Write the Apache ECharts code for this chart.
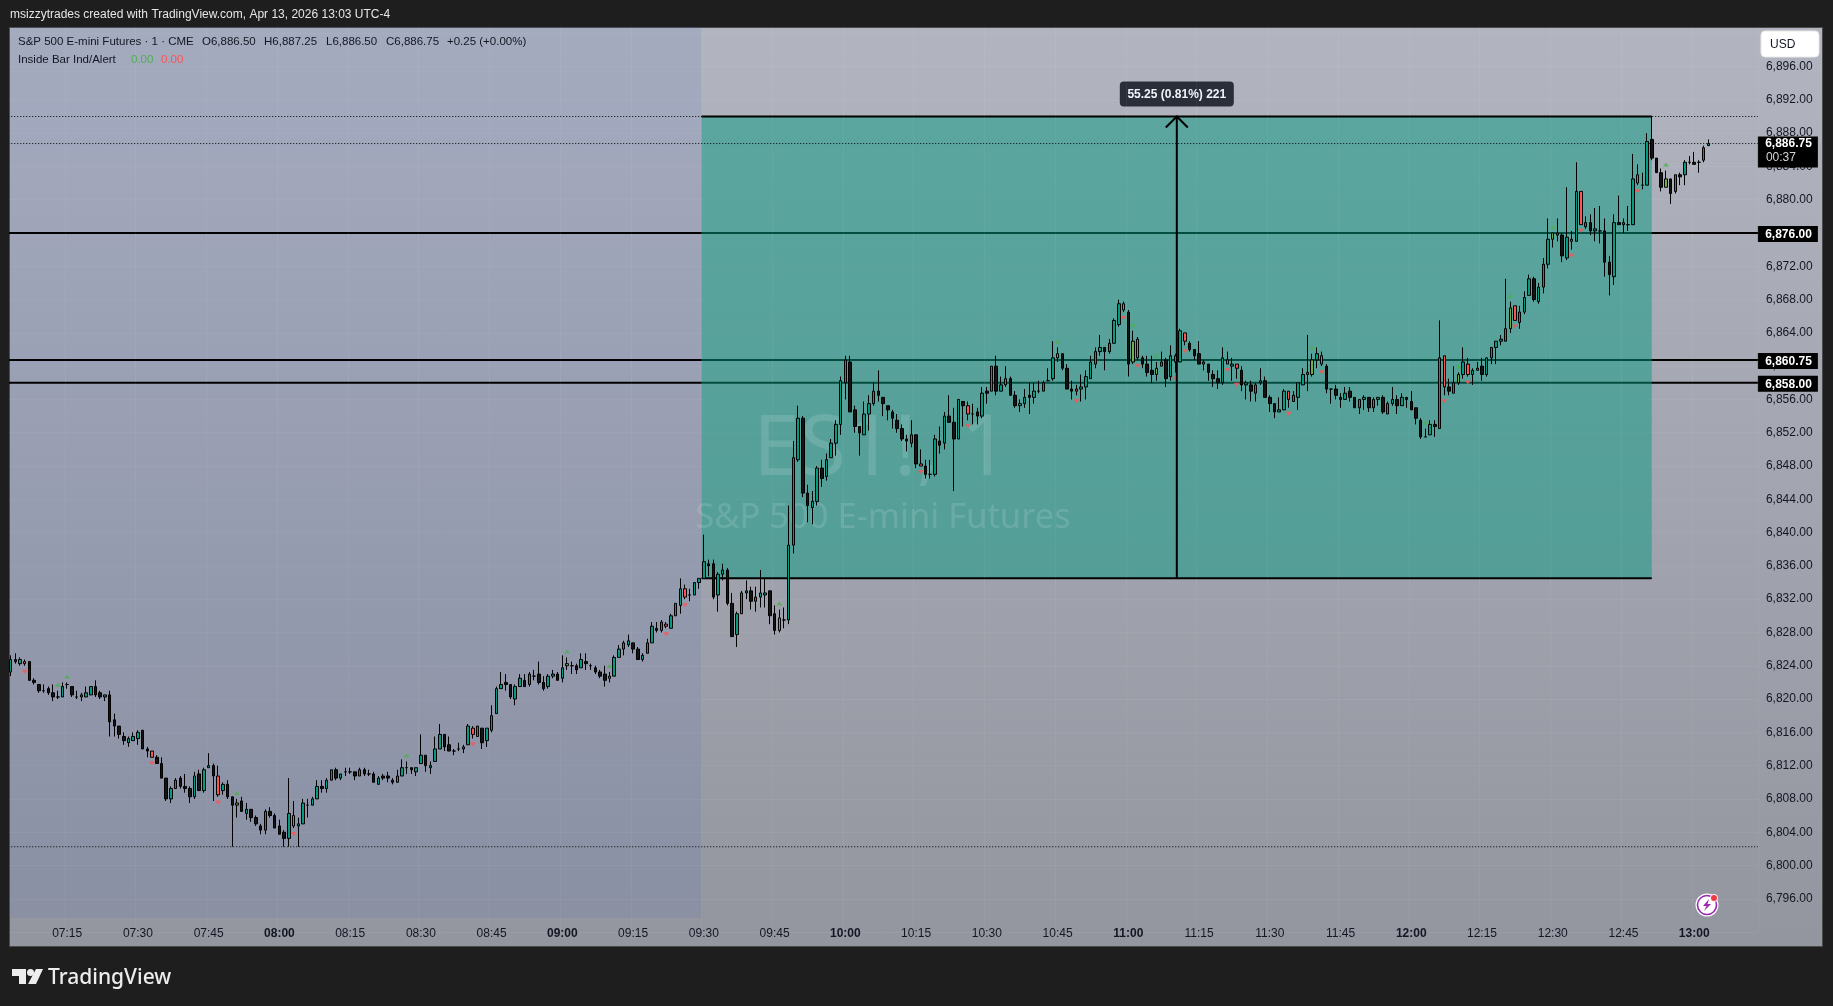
<!DOCTYPE html>
<html><head><meta charset="utf-8">
<style>html,body{margin:0;padding:0;background:#1e1e1e;width:1833px;height:1006px;overflow:hidden}#c{width:1833px;height:1006px}</style>
<script src="https://cdn.jsdelivr.net/npm/echarts@6/dist/echarts.min.js"></script>
</head><body><div id="c"></div>
<script>
// [open, close, low, high] one minute bars from 07:03
const ohlc = [
[6823.25,6824.75,6822.75,6825.25],[6824.75,6824.5,6824.25,6825.5],[6824.25,6824.75,6824,6825],[6824.5,6824.25,6824,6824.75],[6824.5,6822.25,6822.25,6824.5],
[6822.25,6822,6821.75,6822.5],[6821.75,6821,6820.75,6821.75],[6821,6821,6820.75,6821.75],[6821.25,6820.75,6820.5,6821.5],[6820.75,6820.25,6819.75,6821.75],
[6820.25,6820.25,6820,6821],[6820.25,6821.5,6820.25,6822],[6821.75,6821.75,6821.25,6822],[6821.5,6820.5,6820.25,6821.5],[6820.25,6820.25,6820,6821],
[6820.25,6820.5,6819.75,6820.75],[6820.25,6820.75,6820.25,6821.5],[6820.5,6821.5,6820.5,6821.5],[6821.5,6820.5,6820.25,6822.25],[6820.75,6820.25,6820,6821],
[6820.25,6820.5,6819.75,6820.5],[6820.5,6817.25,6815.5,6821],[6817.5,6816.75,6815.5,6818.25],[6816.75,6815.75,6815.25,6816.75],[6815.5,6815,6814.5,6816],
[6814.75,6815.25,6814.25,6815.5],[6815,6815.5,6815,6816],[6815.25,6816,6814.5,6816.25],[6816.25,6814,6814,6816.25],[6814,6813.75,6813,6814.25],
[6813.75,6813,6813,6813.75],[6813,6812.25,6812.25,6813.25],[6812.25,6810.5,6810.5,6813],[6810.5,6808,6807.75,6810.5],[6808,6809.25,6807.5,6809.5],
[6809.25,6810.25,6809.25,6810.5],[6810.5,6809.5,6809.25,6810.75],[6809.5,6809.25,6808.75,6811],[6809.25,6808.25,6807.5,6809.5],[6808.25,6810.75,6808,6811.25],
[6811,6809,6809,6811.5],[6809,6811.5,6808.75,6811.75],[6811.75,6812,6811.75,6813.5],[6812,6810.75,6807.75,6812.25],[6810.75,6808.5,6808.25,6812],
[6809,6809.75,6808.5,6810],[6809.75,6808.25,6808,6810.25],[6808.25,6807.25,6802.25,6808.25],[6807.25,6807.5,6805.75,6808],[6807.75,6806.5,6806.5,6808.25],
[6806.25,6806.75,6805.5,6807.5],[6806.75,6805.75,6805.25,6806.75],[6805.75,6805,6804.75,6806],[6804.75,6804.25,6803.75,6805],[6804.25,6806.5,6803.75,6806.75],
[6806.5,6806,6805.75,6807],[6806,6804.5,6804.5,6806.25],[6804.75,6803.75,6803.75,6805.5],[6804,6803.25,6802.25,6804.25],[6803.25,6806.25,6802.25,6810.5],
[6806,6804.75,6804.5,6807.75],[6804.75,6805,6802.25,6805.75],[6805,6807.5,6805,6808],[6807.25,6807.25,6805.75,6808],[6807.25,6808,6807.25,6808.25],
[6808,6809.5,6808,6810.25],[6809.5,6809.25,6808.75,6810.25],[6809.25,6810.25,6808.75,6810.5],[6810.25,6811.5,6810.25,6811.5],[6811.5,6810.5,6810.25,6811.75],
[6810.5,6811,6810.25,6811],[6811.25,6811.25,6810.75,6811.75],[6811.25,6811.25,6811,6811.75],[6811.25,6810.75,6810.25,6811.25],[6810.75,6811.5,6810.75,6811.75],
[6811.5,6811,6810.75,6811.75],[6811,6811,6810.75,6811.5],[6811,6810,6810,6811.25],[6809.75,6810.5,6809.75,6810.75],[6810.75,6810.5,6810.25,6811],
[6810.75,6810.5,6810,6811.25],[6810.25,6810,6809.75,6810.5],[6810,6810.75,6810,6811.5],[6810.75,6811.75,6810.75,6812.75],[6811.75,6811.75,6811,6812.5],
[6811.75,6811.5,6811,6811.75],[6811.25,6811.75,6810.75,6811.75],[6812.25,6813.25,6812.25,6815.75],[6813.25,6812,6811.25,6813.25],[6811.75,6812,6811,6812.5],
[6812.5,6814,6812.5,6815.5],[6814,6815.75,6814,6817],[6815.75,6814.25,6813.75,6815.75],[6814.5,6813.75,6813.75,6815.5],[6813.75,6813.75,6813.25,6814],
[6814,6814,6813.75,6814.75],[6814,6814.25,6813.5,6814.5],[6814.5,6816.75,6814.5,6817],[6816.5,6815.75,6815.25,6816.75],[6815.5,6816.75,6815.5,6816.75],
[6816.5,6814.75,6814,6816.5],[6815,6816.5,6814.25,6816.5],[6816.25,6818,6816,6819.25],[6818.25,6821.25,6818.25,6821.5],[6821.25,6821.75,6821.25,6823.25],
[6822,6821.75,6821,6823],[6821.75,6820.25,6820,6821.75],[6820,6821.5,6819.25,6821.75],[6821.5,6822.5,6821.5,6823],[6822.25,6821.5,6821.5,6823],
[6821.75,6823,6821.5,6823.25],[6822.75,6822.75,6822.25,6823.5],[6823,6822,6821.75,6824.5],[6822,6821.25,6821,6822.75],[6821.5,6822.75,6821.25,6823],
[6822.75,6823,6822.5,6823.5],[6823,6822.25,6822.25,6823.25],[6822.5,6823.75,6822,6825.25],[6824,6824.25,6823.5,6825],[6824,6824,6823,6824.5],
[6824,6823.5,6823,6824.25],[6823.75,6824.75,6823.75,6825.5],[6824.5,6824.25,6823.5,6825.5],[6824,6824,6823.5,6824.25],[6823.75,6823.25,6823,6824],
[6823.25,6822.75,6822.5,6823.5],[6823,6822.25,6821.5,6824],[6822.5,6822.75,6822,6823.25],[6822.75,6825,6822.75,6825.25],[6825,6826,6825,6826.5],
[6826,6826.75,6825.25,6827],[6826.5,6827,6826.25,6827.75],[6826.75,6826,6825.5,6826.75],[6826,6824.75,6824.75,6826.25],[6824.75,6825.25,6824.5,6825.5],
[6825.5,6826.75,6825.5,6827.25],[6826.75,6828.75,6826.75,6829.25],[6828.5,6828.25,6828,6829.25],[6828.25,6829.25,6828,6829.5],[6829,6828.75,6828.5,6829.25],
[6828.5,6830,6828.5,6830.25],[6830,6831.5,6830,6831.5],[6831.25,6833.25,6830.25,6834.5],[6833.25,6832.25,6832,6833.75],[6832.5,6832.5,6831.75,6833.25],
[6832.5,6834,6832.5,6834],[6834,6834.5,6833.25,6834.5],[6834.5,6836.5,6834.5,6839.75],[6836.25,6836,6834.75,6836.75],[6836.25,6832.25,6832,6836.75],
[6832.5,6835,6830.5,6835.25],[6835,6835.5,6834.25,6836.25],[6835.5,6831.5,6831.25,6835.75],[6831.5,6827.5,6827.5,6832.75],[6827.75,6830.25,6826.25,6830.5],
[6830.25,6832.75,6830.25,6833],[6832.75,6833,6832,6834.25],[6833,6831.75,6830.75,6833.5],[6831.75,6832.25,6830.5,6833.5],[6832.25,6832.75,6831,6835.5],
[6832.5,6832.75,6831,6834.5],[6833,6830,6829,6833],[6830.25,6828.25,6827.75,6831.25],[6828.25,6829.75,6828,6830.75],[6829.5,6829.5,6828.5,6831],
[6829.5,6838.5,6829,6843.25],[6838.5,6849,6837.5,6851],[6848.75,6853.75,6848.5,6855.25],[6853.75,6844.75,6844.25,6854],[6844.75,6843.25,6841.25,6845.75],
[6843,6843.75,6841,6845],[6843.75,6847.75,6843.25,6848],[6847.75,6846.5,6845.5,6848.75],[6846.75,6848.75,6846.25,6849.5],[6849,6850.75,6849,6851.25],
[6850.75,6853,6849.25,6853.5],[6853,6858.25,6851.75,6858.75],[6858,6860.75,6856,6861.25],[6860.5,6854.5,6854.5,6861.25],[6854.75,6852.75,6852,6855.25],
[6852.75,6852,6849.25,6852.75],[6851.75,6854.25,6851.75,6855.75],[6854.25,6855.5,6852.25,6856.5],[6855.5,6857,6855.25,6858],[6857,6856.5,6855.75,6859.5],
[6856.25,6855.5,6854,6856.25],[6855.25,6854.75,6853.5,6855.25],[6854.5,6853.75,6852.5,6854.75],[6853.5,6852.5,6852,6854.25],[6852.5,6851.25,6851,6853],
[6851.25,6851,6849.75,6851.75],[6850.75,6851.75,6850.25,6853.5],[6851.75,6848.25,6847.75,6851.75],[6848.25,6848,6848,6850],[6848,6847,6846.5,6848.75],
[6847,6847,6846.5,6848.75],[6847,6851.25,6846.75,6851.75],[6851,6850.5,6849.5,6852.75],[6850.75,6854,6850,6854.5],[6854,6853.25,6853.25,6856.5],
[6853.25,6851.25,6845,6855],[6851.25,6856,6851.25,6856],[6855.75,6855.25,6852.75,6855.75],[6855.25,6854.25,6853.5,6855.75],[6854.25,6854.25,6853,6855.5],
[6854.5,6854,6853,6855],[6854,6856.75,6853.75,6857.5],[6857,6856.75,6855.5,6857.5],[6857,6860,6857,6860],[6860,6857,6856.5,6861.25],
[6857,6857.75,6857,6858.75],[6857.75,6858.5,6857.5,6860],[6858.5,6856.5,6856.5,6858.75],[6856.5,6855.25,6855,6857],[6855.25,6855.5,6854.5,6856],
[6855.5,6856.25,6855,6857.25],[6856.5,6856.25,6854.25,6858],[6856.25,6857,6855.5,6858],[6857,6857,6856.75,6858.25],[6857,6858,6857,6858.25],
[6858.25,6858.25,6858.25,6859.75],[6858.5,6861,6858.25,6863],[6861,6861.5,6860.5,6862.25],[6861.5,6859.75,6859.5,6861.5],[6859.75,6857.25,6857.25,6860.25],
[6857.25,6857,6856,6858.25],[6857.25,6857,6856.5,6857.75],[6857.25,6857.5,6855.75,6859],[6857.5,6858.75,6856,6859.5],[6858.5,6860.5,6858.5,6861.25],
[6860.25,6861.75,6859.75,6862.25],[6861.75,6862.25,6861.25,6863.75],[6862.25,6861.75,6859.5,6862.25],[6861.75,6862.75,6861.5,6863.25],[6862.75,6865.5,6862.75,6865.75],
[6865,6867.5,6864.75,6868],[6867.5,6866.75,6866.5,6867.75],[6866.5,6860.25,6858.75,6866.75],[6860.5,6863,6860.25,6864.25],[6863.25,6861,6860.75,6863.5],
[6861,6860.25,6859.75,6861.25],[6860.25,6859.25,6858.75,6861.25],[6859.5,6859,6858,6861.25],[6859,6859.75,6858.25,6860.5],[6860,6860.5,6860,6861.75],
[6860.75,6858.5,6857.5,6861],[6858.75,6861.25,6858.25,6862.5],[6861.25,6860.5,6859.25,6861.5],[6860.5,6864.25,6860.5,6864.5],[6864,6863,6862.5,6864],
[6862.75,6862,6861.75,6863],[6862,6861.25,6860.75,6862],[6861.5,6860.25,6860.25,6863],[6860.25,6860.5,6859.5,6860.75],[6860.25,6859.25,6858.25,6860.25],
[6859,6858.5,6857.5,6859.5],[6858.5,6858,6857.25,6859.5],[6858,6861,6857.75,6862.25],[6860.75,6860.25,6860.25,6861.75],[6860,6860.25,6858.25,6861],
[6860.25,6859.75,6858.5,6860.25],[6859.5,6857.75,6857,6860],[6857.75,6858,6856,6858.25],[6857.75,6857,6855.75,6858.25],[6856.75,6857.75,6855.75,6858],
[6858,6858.25,6857.75,6859.75],[6858.25,6856.25,6856.25,6858.75],[6856.25,6855.5,6854.5,6856.5],[6855.5,6854.5,6853.75,6855.5],[6854.5,6854.75,6854.5,6856.25],
[6854.75,6857,6854.75,6857.25],[6857,6856,6855,6857],[6855.75,6856.5,6855.75,6857],[6856.25,6858,6854.75,6858],[6857.75,6859,6857.75,6859.75],
[6859,6859.25,6857,6863.75],[6859,6860.75,6858.75,6861.5],[6860.75,6861.5,6859.75,6862.25],[6861.25,6860.25,6860,6861.75],[6860,6857.25,6856.75,6860.25],
[6857.25,6857.25,6855.5,6857.25],[6857.25,6856.5,6856,6857.75],[6856.25,6856,6855,6856.75],[6856,6856.75,6856,6857.5],[6857,6856.25,6855.75,6857.5],
[6856.25,6855,6855,6856.25],[6855,6856,6854.25,6856],[6856,6856.25,6854.75,6856.5],[6856.25,6855,6854.5,6856.25],[6855,6856,6854.5,6856.25],
[6856,6856.25,6855.25,6856.25],[6856.25,6854.5,6854.25,6856.5],[6854.25,6855.5,6854.25,6855.75],[6855.5,6856,6855.25,6857.5],[6856,6855.25,6854.25,6856.5],
[6855.25,6856.25,6855.25,6856.75],[6856.25,6856,6855,6856.25],[6855.75,6854.75,6854.75,6857],[6855,6853.75,6853,6855],[6853.5,6851.5,6851.25,6853.75],
[6851.5,6851.5,6851.5,6852.5],[6851.75,6853,6851.75,6853.5],[6853,6852.75,6851.5,6853.5],[6852.5,6861,6852.5,6865.5],[6861.25,6857.5,6856.5,6861.25],
[6857.5,6857,6856.5,6858.5],[6856.75,6858,6856.75,6860],[6858,6859,6857.75,6859.25],[6859,6860.5,6858.5,6862.25],[6860.25,6859,6858.75,6861],
[6859,6859.5,6857.75,6859.75],[6859.5,6859.75,6859.5,6860.5],[6860,6859,6858.25,6861],[6859,6861,6858.75,6861],[6861,6862.25,6860.25,6862.25],
[6862.25,6863,6860.25,6863],[6863,6863.25,6862.5,6863.75],[6863,6864.5,6863,6870.5],[6864.5,6867,6864,6867.75],[6867.25,6865.5,6865.5,6867.25],
[6865.25,6866.5,6864.5,6867.25],[6866.5,6868.25,6866.25,6869],[6868.5,6870.5,6868.5,6871],[6870.5,6868,6867.75,6870.75],[6867.75,6869.5,6867.5,6870],
[6869.5,6872.25,6868.75,6873],[6872.25,6875.25,6871.75,6877.75],[6875.25,6876,6874.25,6876],[6875.75,6876,6875,6877.75],[6875.75,6873.25,6872.5,6876],
[6873,6875.5,6872.75,6881.5],[6875.25,6875,6874,6876.25],[6875,6881,6875,6884.5],[6881,6877,6877,6881],[6876.75,6877.25,6876.5,6878],
[6877.25,6876.25,6875.75,6878.25],[6876.25,6876.5,6875,6879],[6876.25,6876.25,6874.75,6879.25],[6876.25,6872.5,6870.75,6877.75],[6872.5,6871,6868.5,6873.25],
[6870.75,6877.25,6869.75,6878.25],[6877.25,6877,6877,6880.5],[6877,6877.25,6876,6877.75],[6877,6877,6876.25,6879.25],[6877,6882.5,6877,6885.5],
[6883,6882,6881.75,6884.25],[6881.75,6881.75,6881.25,6883.25],[6881.75,6887,6881.75,6888],[6887.25,6885,6884.75,6890],[6885,6883.25,6883.25,6885],
[6883.25,6881.5,6881,6883.75],[6881.5,6882.5,6881.5,6883.5],[6882.5,6880.75,6879.5,6882.5],[6881,6883,6880.75,6883],[6883,6882.75,6881.75,6883.25],
[6883,6884.5,6881.75,6884.75],[6884.5,6884.5,6884.25,6885.25],[6884.5,6884.25,6884.25,6885.75],[6884.5,6884.5,6883.25,6884.75],[6884.75,6886.25,6884.5,6886.5],
[6886.5,6886.75,6886.5,6887.25]
];
const redBars = [4,31,45,61,99,140,144,194,204,227,237,240,248,250,259,261,272,279,305,310,320,332,334,346];
const greenBars = [11,13,49,85,119,128,164,223,239,244,277,301,308,319,328,352];
const solidLevels = [6876,6860.75,6858];
const dottedLevels = [6890,6886.75,6802.25];
const positionTop = 6890, positionBottom = 6834.5;
const sessionOpen = '09:30', positionEnd = '12:51', arrowTime = '11:11';
const sessionBottomPrice = 6793.68;
const priceMin = 6792, priceMax = 6904, priceStep = 4;
const hiddenPrices = [6792,6900,6904];
const firstMinute = 7*60+3, slotCount = 371;
const times = Array.from({length:slotCount},(_,i)=>{const m=firstMinute+i;return String(Math.floor(m/60)).padStart(2,'0')+':'+String(m%60).padStart(2,'0');});
const fmt = p => p.toLocaleString('en-US',{minimumFractionDigits:2,maximumFractionDigits:2});
const FONT = '"Liberation Sans",Arial,sans-serif';
const is15 = (i,v)=>/:(00|15|30|45)$/.test(v);

const candleData = ohlc.map((r,i)=>{
  const n=i+1;
  if(redBars.includes(n)) return {value:r,itemStyle:{color:'#FF5252',color0:'#FF5252'}};
  if(greenBars.includes(n)) return {value:r,itemStyle:{color:'#6FAF45',color0:'#6FAF45'}};
  return r;
});

function custom(z,render){return {type:'custom',z,silent:true,animation:false,clip:false,data:[[0,priceMin]],encode:{x:0,y:1},renderItem:render};}
const yOf=(api,p)=>api.coord([0,p])[1];
const xOf=(api,t)=>api.coord([times.indexOf(t),priceMin])[0];

const series=[
 custom(1,(params,api)=>{ // pre-market session shade
   const g=params.coordSys;const right=xOf(api,sessionOpen)-g.width/slotCount/2;const bot=yOf(api,sessionBottomPrice);
   return {type:'rect',shape:{x:g.x,y:g.y,width:right-g.x,height:bot-g.y},style:{fill:'rgba(70,100,190,0.12)'}};
 }),
 custom(2,(params,api)=>{ // horizontal levels
   const g=params.coordSys;
   return {type:'group',children:solidLevels.map(p=>({type:'line',shape:{x1:g.x,x2:g.x+g.width,y1:yOf(api,p),y2:yOf(api,p)},style:{stroke:'#000',lineWidth:2}}))};
 }),
 custom(3,(params,api)=>{ // long position box
   const g=params.coordSys;const l=xOf(api,sessionOpen)-g.width/slotCount/2,r=xOf(api,positionEnd);
   const t=yOf(api,positionTop),b=yOf(api,positionBottom);
   return {type:'group',children:[
     {type:'rect',shape:{x:l,y:t,width:r-l,height:b-t},style:{fill:'rgba(8,153,129,0.5)'}},
     {type:'line',shape:{x1:l,x2:r,y1:t,y2:t},style:{stroke:'#000',lineWidth:2}},
     {type:'line',shape:{x1:l,x2:r,y1:b,y2:b},style:{stroke:'#000',lineWidth:2}}
   ]};
 }),
 custom(4,(params,api)=>{ // dotted levels
   const g=params.coordSys;
   return {type:'group',children:dottedLevels.map(p=>({type:'line',shape:{x1:g.x,x2:g.x+g.width,y1:yOf(api,p),y2:yOf(api,p)},style:{stroke:'#000',lineWidth:1,lineDash:[1,2]}}))};
 }),
 {type:'candlestick',z:5,animation:false,data:candleData,barWidth:3,clip:true,
  itemStyle:{color:'#089981',color0:'#141414',borderColor:'#000',borderColor0:'#000',borderWidth:1}},
 {type:'scatter',z:6,animation:false,silent:true,symbol:'triangle',symbolRotate:180,symbolSize:[6,4],symbolOffset:[0,6],
  itemStyle:{color:'#FF5252'},data:redBars.map(n=>[n-1,ohlc[n-1][2]])},
 {type:'scatter',z:6,animation:false,silent:true,symbol:'triangle',symbolSize:[6,4],symbolOffset:[0,-6],
  itemStyle:{color:'#4CAF50'},data:greenBars.map(n=>[n-1,ohlc[n-1][3]])},
 custom(7,(params,api)=>{ // measure arrow and label
   const g=params.coordSys;const x=xOf(api,arrowTime)-g.width/slotCount/2-1;const t=yOf(api,positionTop),b=yOf(api,positionBottom);
   return {type:'group',children:[
     {type:'line',shape:{x1:x,x2:x,y1:t,y2:b},style:{stroke:'#000',lineWidth:2}},
     {type:'polyline',shape:{points:[[x-11,t+11],[x,t],[x+11,t+11]]},style:{stroke:'#000',lineWidth:2,fill:'none'}},
     {type:'rect',shape:{x:x-57,y:t-35,width:114,height:25,r:4},style:{fill:'#2A2E39'}},
     {type:'text',style:{text:'55.25 (0.81%) 221',x:x,y:t-22,fill:'#F0F3FA',font:'bold 12px '+FONT,align:'center',verticalAlign:'middle'}}
   ]};
 }),
 custom(9,(params,api)=>{ // price tags
   const g=params.coordSys;const tagX=g.x+g.width,tagW=60,tx=tagX+54;
   const kids=[];
   solidLevels.forEach(p=>{const y=yOf(api,p);
     kids.push({type:'rect',shape:{x:tagX,y:y-7,width:tagW,height:16},style:{fill:'#000'}});
     kids.push({type:'text',style:{text:fmt(p),x:tx,y:y+2,fill:'#fff',font:'bold 12px '+FONT,align:'right',verticalAlign:'middle'}});
   });
   const y=yOf(api,dottedLevels[1]);
   kids.push({type:'rect',shape:{x:tagX,y:y-7,width:tagW,height:31},style:{fill:'#000'}});
   kids.push({type:'text',style:{text:fmt(dottedLevels[1]),x:tx,y:y,fill:'#fff',font:'bold 12px '+FONT,align:'right',verticalAlign:'middle'}});
   kids.push({type:'text',style:{text:'00:37',x:tagX+8,y:y+14,fill:'#D6D6D6',font:'12px '+FONT,align:'left',verticalAlign:'middle'}});
   return {type:'group',children:kids};
 })
];

const txt=(text,x,y,fill,font,z,extra)=>({type:'text',z:z||21,silent:true,style:Object.assign({text,x,y,fill,font,textVerticalAlign:'middle'},extra||{})});
const graphic=[
 {type:'rect',z:-10,silent:true,shape:{x:9.5,y:27.5,width:1813,height:919},
  style:{stroke:'#4a4a4a',lineWidth:1,fill:new echarts.graphic.LinearGradient(0,0,0,1,[{offset:0,color:'#B2B5C0'},{offset:1,color:'#93969F'}])}},
 txt('ES1!, 1',881,451,'rgba(255,255,255,0.13)','84px "Noto Sans"',3.5,{textAlign:'center'}),
 txt('S&P 500 E-mini Futures',883,518,'rgba(255,255,255,0.13)','34.5px "Noto Sans"',3.5,{textAlign:'center'}),
 {type:'rect',z:20,silent:true,shape:{x:0,y:0,width:1833,height:27},style:{fill:'#1e1e1e'}},
 {type:'rect',z:20,silent:true,shape:{x:0,y:27,width:9,height:979},style:{fill:'#1e1e1e'}},
 txt('msizzytrades created with TradingView.com, Apr 13, 2026 13:03 UTC-4',10,15,'#E6E6E6','12px '+FONT),
 txt('S&P 500 E-mini Futures · 1 · CME',18,42,'#131722','11.5px '+FONT),
 txt('O6,886.50',202,42,'#131722','11.5px '+FONT),
 txt('H6,887.25',264,42,'#131722','11.5px '+FONT),
 txt('L6,886.50',326,42,'#131722','11.5px '+FONT),
 txt('C6,886.75',386,42,'#131722','11.5px '+FONT),
 txt('+0.25 (+0.00%)',447,42,'#131722','11.5px '+FONT),
 txt('Inside Bar Ind/Alert',18,59.5,'#131722','11.5px '+FONT),
 txt('0.00',131,59.5,'#4CAF50','11.5px '+FONT),
 txt('0.00',161,59.5,'#FF5252','11.5px '+FONT),
 {type:'rect',z:21,silent:true,shape:{x:1761,y:31,width:58,height:26,r:4},style:{fill:'#fff',stroke:'#E8E8E8',lineWidth:1}},
 txt('USD',1770,44.5,'#131722','12px '+FONT),
 // alert icon
 {type:'circle',z:21,silent:true,shape:{cx:1707,cy:905,r:11.5},style:{fill:'#fff'}},
 {type:'circle',z:21,silent:true,shape:{cx:1707,cy:905,r:9.5},style:{fill:'#fff',stroke:'#9C27B0',lineWidth:1.6}},
 {type:'polygon',z:22,silent:true,shape:{points:[[1709,899],[1703,906],[1706.5,906],[1704,911],[1711,904],[1707.5,904]]},style:{fill:'#9C27B0'}},
 {type:'circle',z:22,silent:true,shape:{cx:1714,cy:898,r:3.6},style:{fill:'#F23645',stroke:'#fff',lineWidth:1}},
 // logo
 {type:'polygon',z:21,silent:true,shape:{points:[[12,969],[26,969],[26,984],[19,984],[19,976],[12,976]]},style:{fill:'#EDEDED'}},
 {type:'circle',z:21,silent:true,shape:{cx:30.5,cy:972.5,r:3.5},style:{fill:'#EDEDED'}},
 {type:'polygon',z:21,silent:true,shape:{points:[[36,969],[43,969],[36,984],[28,984]]},style:{fill:'#EDEDED'}},
 txt('TradingView',48,978,'#EDEDED','500 21px "Noto Sans"')
];

const chart=echarts.init(document.getElementById('c'),null,{renderer:'canvas'});
chart.setOption({
 animation:false,
 backgroundColor:'#1e1e1e',
 tooltip:{show:false},
 grid:{left:8.24,top:-1.7,width:4.716*slotCount,height:933.75,containLabel:false},
 graphic:{elements:graphic},
 xAxis:{type:'category',data:times,boundaryGap:true,z:12,
  axisLine:{show:false},axisTick:{show:false},
  splitLine:{show:true,interval:is15,lineStyle:{color:'rgba(255,255,255,0.05)',width:1}},
  axisLabel:{interval:is15,margin:2,hideOverlap:false,color:'#131722',fontFamily:FONT,fontSize:12,verticalAlign:'middle',
   formatter:v=>/:00$/.test(v)?'{b|'+v+'}':v,
   rich:{b:{fontWeight:'bold',color:'#131722',fontFamily:FONT,fontSize:12}}}},
 yAxis:{type:'value',position:'right',min:priceMin,max:priceMax,interval:priceStep,scale:true,
  axisLine:{show:false},axisTick:{show:false},
  splitLine:{show:true,lineStyle:{color:'rgba(255,255,255,0.05)',width:1}},
  axisLabel:{margin:8,padding:[3,0,0,0],color:'#131722',fontFamily:FONT,fontSize:12,
   formatter:v=>hiddenPrices.includes(v)?'':fmt(v)}},
 series
});
</script></body></html>
